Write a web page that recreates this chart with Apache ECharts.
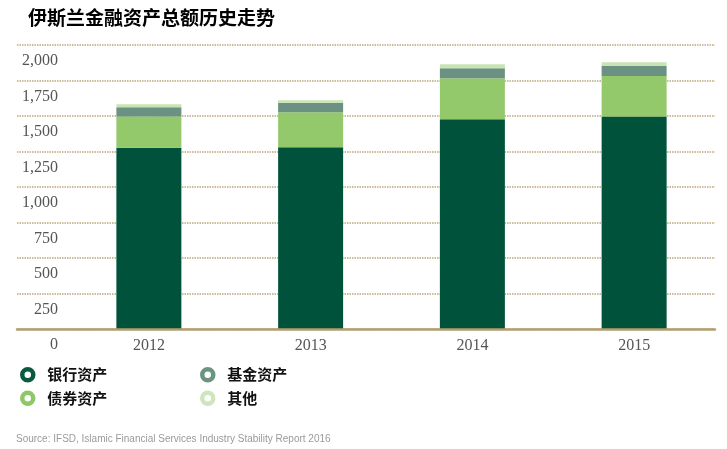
<!DOCTYPE html>
<html>
<head>
<meta charset="utf-8">
<script src="https://cdn.jsdelivr.net/npm/echarts@6/dist/echarts.min.js"></script>
<style>
html,body{margin:0;padding:0;background:#fff;}
#chart{width:727px;height:449px;}
</style>
</head>
<body>
<div id="chart"></div>
<script>
const categories = ['2012', '2013', '2014', '2015'];
const bankAssets = [1277, 1280, 1477, 1496];
const sukukAssets = [220, 247, 289, 286];
const fundAssets = [65, 67, 70, 70];
const otherAssets = [21, 17, 28, 26];
const yMin = 0, yMax = 2000, yStep = 250;

const seriesNames = ['银行资产', '债券资产', '基金资产', '其他'];
const seriesColors = ['#00533a', '#93c96b', '#6a9181', '#c8e4b2'];
const ringColors = ['#0b5a3e', '#8ec766', '#6b9483', '#cde6bd'];
const seriesData = [bankAssets, sukukAssets, fundAssets, otherAssets];

const chart = echarts.init(document.getElementById('chart'), null, {renderer: 'canvas'});

const legendItem = i => ({
  name: seriesNames[i],
  icon: 'circle',
  itemStyle: {color: '#ffffff', borderColor: ringColors[i], borderWidth: 4.5}
});

const legendCommon = {
  orient: 'vertical',
  itemWidth: 11,
  itemHeight: 11,
  itemGap: 8,
  top: 362,
  textStyle: {
    fontFamily: 'Noto Sans CJK SC', fontSize: 15, fontWeight: 'bold',
    color: '#111', lineHeight: 15, padding: [0, 0, 0, 9]
  },
  selectedMode: false
};

chart.setOption({
  animation: false,
  backgroundColor: '#ffffff',
  title: [
    {
      text: '伊斯兰金融资产总额历史走势',
      left: 23, top: 3,
      textStyle: {fontFamily: 'Noto Sans CJK SC', fontSize: 19, fontWeight: 'bold', color: '#000'}
    },
    {
      text: 'Source: IFSD, Islamic Financial Services Industry Stability Report 2016',
      left: 11, top: 429,
      textStyle: {fontFamily: 'Liberation Sans', fontSize: 10, fontWeight: 'normal', color: '#9a9a9a'}
    }
  ],
  legend: [
    Object.assign({}, legendCommon, {left: 15, data: [legendItem(0), legendItem(1)]}),
    Object.assign({}, legendCommon, {left: 195, data: [legendItem(2), legendItem(3)]})
  ],
  grid: [
    {left: 17, right: 12, top: 45, bottom: 120},
    {left: 68, right: 12, top: 45, bottom: 120}
  ],
  xAxis: [
    {
      gridIndex: 0, type: 'category', data: categories, z: 5,
      axisLine: {show: true, lineStyle: {color: '#b39e70', width: 2.5}},
      axisTick: {show: false}, axisLabel: {show: false}, splitLine: {show: false}
    },
    {
      gridIndex: 1, type: 'category', data: categories,
      axisLine: {show: false}, axisTick: {show: false},
      axisLabel: {margin: 9, fontFamily: 'Liberation Serif', fontSize: 16, color: '#555'}
    }
  ],
  yAxis: [
    {
      gridIndex: 0, type: 'value', min: yMin, max: yMax, interval: yStep,
      axisLine: {show: false}, axisTick: {show: false}, axisLabel: {show: false},
      splitLine: {show: true, lineStyle: {color: '#bba77c', width: 1.5, type: [1.5, 1]}}
    },
    {
      gridIndex: 1, type: 'value', min: yMin, max: yMax, interval: yStep,
      axisLine: {show: false}, axisTick: {show: false}, splitLine: {show: false},
      axisLabel: {
        margin: 10, verticalAlign: 'top', padding: [8, 0, 0, 0],
        fontFamily: 'Liberation Serif', fontSize: 16, color: '#555',
        formatter: v => v.toLocaleString('en-US')
      }
    }
  ],
  series: seriesNames.map((name, i) => ({
    name: name,
    type: 'bar',
    stack: 'total',
    xAxisIndex: 1,
    yAxisIndex: 1,
    barWidth: 65,
    itemStyle: {color: seriesColors[i]},
    data: seriesData[i]
  }))
});
</script>
</body>
</html>
